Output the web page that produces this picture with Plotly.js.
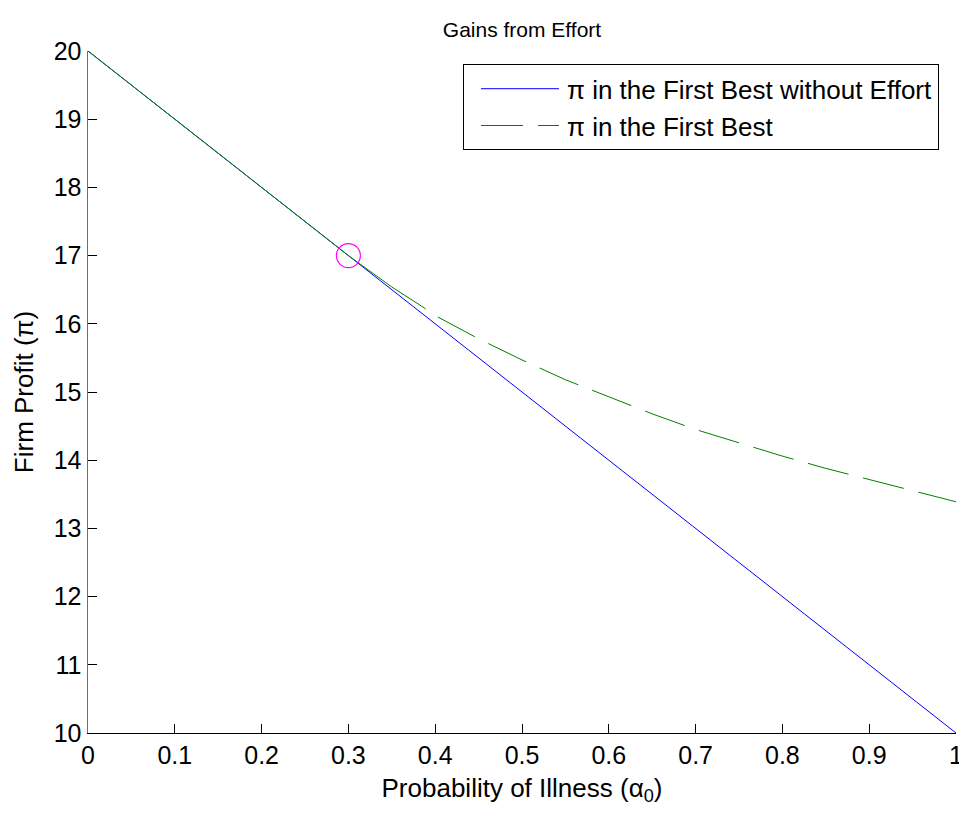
<!DOCTYPE html>
<html>
<head>
<meta charset="utf-8">
<script src="https://cdn.plot.ly/plotly-3.0.1.min.js"></script>
<style>
html, body { margin: 0; padding: 0; background: #ffffff; }
#chart { width: 959px; height: 813px; }
</style>
</head>
<body>
<div id="chart"></div>
<script>
// Data
const alpha = [0, 0.1, 0.2, 0.3, 0.4, 0.5, 0.6, 0.7, 0.8, 0.9, 1.0];
const profitNoEffort = [20, 19, 18, 17, 16, 15, 14, 13, 12, 11, 10];

// First Best profit: first part coincides with the no-effort line
const firstBestSolidX = [0, 0.1, 0.2, 0.3, 0.35, 0.389];
const firstBestSolidY = [20, 19, 18, 17, 16.54, 16.22];
// remaining part (drawn dashed)
const firstBestDashX = [0.403, 0.45, 0.5, 0.55, 0.6, 0.65, 0.7, 0.75, 0.8, 0.85, 0.9, 0.95, 1.0];
const firstBestDashY = [16.10, 15.78, 15.47, 15.18, 14.93, 14.68, 14.45, 14.25, 14.06, 13.88, 13.72, 13.55, 13.39];

// Highlighted point
const markX = [0.3];
const markY = [17];

const xTicks = [0, 0.1, 0.2, 0.3, 0.4, 0.5, 0.6, 0.7, 0.8, 0.9, 1];
const xTickText = ['0', '0.1', '0.2', '0.3', '0.4', '0.5', '0.6', '0.7', '0.8', '0.9', '1'];
const yTicks = [10, 11, 12, 13, 14, 15, 16, 17, 18, 19, 20];
const yTickText = ['10', '11', '12', '13', '14', '15', '16', '17', '18', '19', '20'];

const FONT = 'Liberation Sans, Arial, Helvetica, sans-serif';

const traces = [
  {
    x: alpha, y: profitNoEffort, type: 'scatter', mode: 'lines',
    name: 'π in the First Best without Effort',
    line: { color: '#0000ff', width: 1 }
  },
  {
    x: firstBestSolidX, y: firstBestSolidY, type: 'scatter', mode: 'lines',
    showlegend: false, legendgroup: 'fb',
    line: { color: '#008000', width: 1 }
  },
  {
    x: firstBestDashX, y: firstBestDashY, type: 'scatter', mode: 'lines',
    name: 'π in the First Best', legendgroup: 'fb',
    line: { color: '#008000', width: 1, dash: '42px,15px' }
  },
  {
    x: markX, y: markY, type: 'scatter', mode: 'markers', showlegend: false,
    marker: { symbol: 'circle-open', size: 24, color: '#ff00ff', line: { width: 1.2, color: '#ff00ff' } }
  }
];

const layout = {
  width: 959, height: 813,
  margin: { l: 88, r: 3, t: 51, b: 80 },
  paper_bgcolor: '#ffffff', plot_bgcolor: '#ffffff',
  font: { family: FONT, size: 25, color: '#000000' },
  title: {
    text: 'Gains from Effort',
    font: { family: FONT, size: 21, color: '#000000' },
    xref: 'paper', x: 0.5, xanchor: 'center',
    yref: 'container', y: 1 - 30 / 813, yanchor: 'middle'
  },
  xaxis: {
    range: [0, 1], tickmode: 'array', tickvals: xTicks, ticktext: xTickText,
    showgrid: false, zeroline: false, showline: true, linecolor: '#000000', linewidth: 1,
    ticks: 'inside', ticklen: 9, tickwidth: 1, tickcolor: '#000000',
    ticklabeloverflow: 'allow',
    tickfont: { family: FONT, size: 25, color: '#000000' },
    title: { text: 'Probability of Illness (α<sub>0</sub>)', font: { family: FONT, size: 26, color: '#000000' }, standoff: 10 }
  },
  yaxis: {
    range: [10, 20], tickmode: 'array', tickvals: yTicks, ticktext: yTickText,
    showgrid: false, zeroline: false, showline: true, linecolor: '#6e6e6e', linewidth: 1.5,
    ticks: 'inside', ticklen: 9, tickwidth: 1, tickcolor: '#000000',
    ticklabeloverflow: 'allow',
    tickfont: { family: FONT, size: 25, color: '#000000' },
    title: { text: 'Firm Profit (π)', font: { family: FONT, size: 26, color: '#000000' }, standoff: 12 }
  },
  legend: {
    x: 0.432, y: 0.9805, xanchor: 'left', yanchor: 'top',
    bgcolor: '#ffffff', bordercolor: '#000000', borderwidth: 1,
    font: { family: FONT, size: 26, color: '#000000' },
    itemwidth: 93, traceorder: 'normal'
  },
  showlegend: true
};

Plotly.newPlot('chart', traces, layout, { displayModeBar: false, staticPlot: true }).then(function () {
  document.querySelectorAll('.legend .legendlines path.js-line').forEach(function (p) {
    p.setAttribute('d', 'M17,0h78');
  });
});
</script>
</body>
</html>
